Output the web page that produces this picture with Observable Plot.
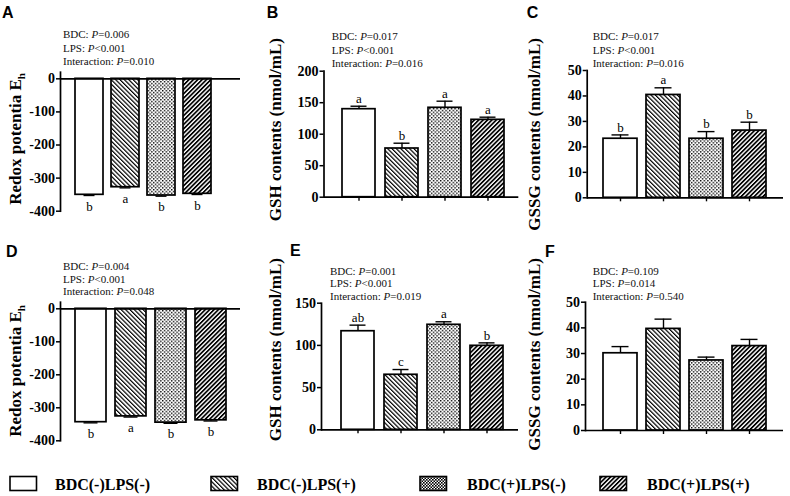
<!DOCTYPE html>
<html><head><meta charset="utf-8">
<script src="https://cdn.jsdelivr.net/npm/d3@7"></script>
<script src="https://cdn.jsdelivr.net/npm/@observablehq/plot@0.6"></script>
<style>
body{margin:0;background:#fff;}
#root{position:relative;width:790px;height:496px;overflow:hidden;background:#fff;}
.panel{position:absolute;}
.panel svg{overflow:visible;}
</style></head><body>
<svg width="0" height="0" style="position:absolute">
<defs>
<pattern id="p2" patternUnits="userSpaceOnUse" width="3.1" height="3.1" patternTransform="rotate(-45)">
<rect width="3.1" height="3.1" fill="#fff"/><rect width="1.2" height="3.1" fill="#000"/></pattern>
<pattern id="p3" patternUnits="userSpaceOnUse" width="3.6" height="3.6">
<rect width="3.6" height="3.6" fill="#fff"/><rect x="0" y="0" width="1.4" height="1.4" fill="#000"/><rect x="1.8" y="1.8" width="1.4" height="1.4" fill="#000"/></pattern>
<pattern id="p4" patternUnits="userSpaceOnUse" width="3.1" height="3.1" patternTransform="rotate(45)">
<rect width="3.1" height="3.1" fill="#fff"/><rect width="1.7" height="3.1" fill="#000"/></pattern>
<pattern id="p3L" patternUnits="userSpaceOnUse" width="3" height="3">
<rect width="3" height="3" fill="#fff"/><rect x="0" y="0" width="1.6" height="1.6" fill="#000"/><rect x="1.5" y="1.5" width="1.6" height="1.6" fill="#000"/></pattern>
</defs></svg>
<div id="root"></div>
<script>
// ---- data ----
const groups = ["BDC(-)LPS(-)", "BDC(-)LPS(+)", "BDC(+)LPS(-)", "BDC(+)LPS(+)"];
const fills = ["#fff", "url(#p2)", "url(#p3)", "url(#p4)"];

const valuesA = [-350.5, -327.5, -352.6, -347.5];
const errorsA = [2, 2, 2, 2];
const lettersA = ["b", "a", "b", "b"];
const pA = ["0.006", "<0.001", "0.010"];
const ticksA = [0, -100, -200, -300, -400];

const valuesB = [139.7, 77.3, 141.9, 122.8];
const errorsB = [4.7, 8.4, 10.5, 4.2];
const lettersB = ["a", "b", "a", "a"];
const pB = ["0.017", "<0.001", "0.016"];
const ticksB = [0, 50, 100, 150, 200];

const valuesC = [23.2, 40.4, 23.2, 26.4];
const errorsC = [1.5, 2.8, 2.8, 3.3];
const lettersC = ["b", "a", "b", "b"];
const pC = ["0.017", "<0.001", "0.016"];
const ticksC = [0, 10, 20, 30, 40, 50];

const valuesD = [-343.6, -326, -345, -338];
const errorsD = [2, 2, 2, 2];
const lettersD = ["b", "a", "b", "b"];
const pD = ["0.004", "<0.001", "0.048"];
const ticksD = [0, -100, -200, -300, -400];

const valuesE = [116.8, 65.2, 124.4, 99.5];
const errorsE = [7.2, 6.2, 3.6, 3.5];
const lettersE = ["ab", "c", "a", "b"];
const pE = ["0.001", "<0.001", "0.019"];
const ticksE = [0, 50, 100, 150];

const valuesF = [30.1, 39.6, 27.3, 32.9];
const errorsF = [2.6, 3.8, 1.3, 2.6];
const lettersF = ["", "", "", ""];
const pF = ["0.109", "0.014", "0.540"];
const ticksF = [0, 10, 20, 30, 40, 50];

const pLabels = ["BDC", "LPS", "Interaction"];
const titleEh = "Redox potentia E";
const titleGSH = "GSH contents (nmol/mL)";
const titleGSSG = "GSSG contents (nmol/mL)";

// ---- layout ----
const SERIF = "'Liberation Serif','Times New Roman',serif";
const SANS = "'Liberation Sans',Arial,sans-serif";
const panels = [
  {id:"A", left:0, top:0, w:260, h:220, ml:60, mr:20, mt:71.7, mb:9.3, dom:[-400,20], xr:[74,212.7], pi:0.22,
   values:valuesA, errors:errorsA, letters:lettersA, p:pA, ticks:ticksA, title:titleEh, sub:"h", lx:2, ly:18.3, px:63, py:[37.8,51.5,65.2], tx:21, ty:73, xaxis:false},
  {id:"B", left:260, top:0, w:260, h:220, ml:63.5, mr:1.7, mt:70.7, mb:23.3, dom:[0,200], xr:[80.7,245.7], pi:0.23,
   values:valuesB, errors:errorsB, letters:lettersB, p:pB, ticks:ticksB, title:titleGSH, lx:6.7, ly:18.3, px:71.7, py:[40,53.5,67], tx:20.5, ty:38, xaxis:true},
  {id:"C", left:520, top:0, w:270, h:220, ml:66.7, mr:7, mt:70, mb:22.7, dom:[0,50], xr:[81.7,246.7], pi:0.22,
   values:valuesC, errors:errorsC, letters:lettersC, p:pC, ticks:ticksC, title:titleGSSG, lx:6.7, ly:18.3, px:72.7, py:[40,53.5,67], tx:19.5, ty:38, xaxis:true},
  {id:"D", left:0, top:220, w:260, h:230, ml:60, mr:20, mt:81.7, mb:9.7, dom:[-400,20], xr:[74,227], pi:0.23,
   values:valuesD, errors:errorsD, letters:lettersD, p:pD, ticks:ticksD, title:titleEh, sub:"h", lx:6, ly:36.7, px:63, py:[50,62.8,75.4], tx:21, ty:85, xaxis:false},
  {id:"E", left:260, top:220, w:260, h:230, ml:61, mr:2, mt:82.7, mb:20.7, dom:[0,150], xr:[80,244], pi:0.234,
   values:valuesE, errors:errorsE, letters:lettersE, p:pE, ticks:ticksE, title:titleGSH, lx:30, ly:36, px:70, py:[55,67,79.5], tx:20.5, ty:38, xaxis:true},
  {id:"F", left:520, top:220, w:270, h:230, ml:65, mr:7, mt:81.7, mb:20, dom:[0,50], xr:[81.7,247.3], pi:0.22,
   values:valuesF, errors:errorsF, letters:lettersF, p:pF, ticks:ticksF, title:titleGSSG, lx:25, ly:36.7, px:72.7, py:[55,67,79.5], tx:19.5, ty:38, xaxis:true}
];

const root = document.getElementById("root");

function makePanel(c) {
  const data = groups.map((g, i) => ({g, v: c.values[i], e: c.errors[i], l: c.letters[i], f: fills[i]}));
  const neg = c.values[0] < 0;
  const end = d => neg ? d.v - d.e : d.v + d.e;
  const marks = [
    Plot.barY(data, {x: "g", y1: 0, y2: "v", fill: "f", stroke: "#000", strokeWidth: 1.7}),
    Plot.ruleX(data, {x: "g", y1: "v", y2: end, stroke: "#000", strokeWidth: 1.4}),
    Plot.tickY(data, {x: "g", y: end, stroke: "#000", strokeWidth: 1.4, insetLeft: 8.5, insetRight: 8.5}),
    Plot.ruleY([0], {stroke: "#000", strokeWidth: 1.7}),
    Plot.frame({anchor: "left", stroke: "#000", strokeWidth: 1.7}),
    Plot.axisY({ticks: c.ticks, tickSize: 4, tickPadding: 1.5, tickFormat: d => String(d), label: null,
      fontSize: 14, fontWeight: "bold", fontFamily: SERIF, stroke: "#000", strokeWidth: 1.5, fill: "#000"}),
    Plot.text(data.filter(d => d.l), {x: "g", y: end, text: "l", dy: neg ? 11 : -7.5, lineAnchor: "middle",
      fontSize: 13, fontFamily: SERIF, fill: "#000"})
  ];
  if (c.xaxis) marks.push(Plot.axisX({tickSize: 4, tickFormat: () => "", label: null, stroke: "#000", strokeWidth: 1.4}));
  const svg = Plot.plot({
    width: c.w, height: c.h,
    marginLeft: c.ml, marginRight: c.mr, marginTop: c.mt, marginBottom: c.mb,
    x: {type: "band", domain: groups, range: c.xr, paddingInner: c.pi, paddingOuter: 0, axis: null},
    y: {domain: c.dom, axis: null},
    color: {type: "identity"},
    style: {fontFamily: SERIF, color: "#000", background: "transparent", overflow: "visible"},
    marks
  });
  const s = d3.select(svg);
  // force serif bold tick labels
  s.selectAll('[aria-label="y-axis tick label"]').each(function() {
    d3.select(this).style("font-family", SERIF).style("font-weight", "bold").style("font-size", "14px");
    d3.select(this).selectAll("text").style("font-family", SERIF).style("font-weight", "bold")
      .style("font-size", "14px").style("fill", "#000");
  });
  s.selectAll('[aria-label="text"] text').style("font-family", SERIF).style("font-size", "13px").style("fill", "#000");
  s.append("text").attr("x", c.lx).attr("y", c.ly).attr("text-anchor", "start")
    .attr("font-family", SANS).attr("font-weight", "bold")
    .attr("font-size", 16).attr("fill", "#000").text(c.id);
  c.p.forEach((pv, i) => {
    const t = s.append("text").attr("x", c.px).attr("y", c.py[i]).attr("text-anchor", "start")
      .attr("font-family", SERIF).attr("font-size", 11).attr("fill", "#111");
    t.append("tspan").text(pLabels[i] + ": ");
    t.append("tspan").attr("font-style", "italic").text("P");
    t.append("tspan").text(pv.startsWith("<") ? pv : "=" + pv);
  });
  const tt = s.append("text").attr("transform", `translate(${c.tx},${c.ty}) rotate(-90)`)
    .attr("text-anchor", "end").attr("font-family", SERIF).attr("font-weight", "bold")
    .attr("font-size", 17).attr("fill", "#000");
  tt.append("tspan").text(c.title);
  if (c.sub) tt.append("tspan").attr("font-size", 11).attr("dy", 4).text(c.sub);
  const div = document.createElement("div");
  div.className = "panel";
  div.style.left = c.left + "px";
  div.style.top = c.top + "px";
  div.style.width = c.w + "px";
  div.appendChild(svg);
  root.appendChild(div);
}
panels.forEach(makePanel);

// ---- legend ----
const legendX = [{bx: 10, tx: 55}, {bx: 211, tx: 257}, {bx: 420, tx: 467}, {bx: 600, tx: 647}];
const legendFills = ["#fff", "url(#p2)", "url(#p3L)", "url(#p4)"];
const lg = d3.select(root).append("div").attr("class", "panel").style("left", "0px").style("top", "455px")
  .append("svg").attr("width", 790).attr("height", 41);
groups.forEach((g, i) => {
  lg.append("rect").attr("x", legendX[i].bx).attr("y", 21.5).attr("width", 26.5).attr("height", 14)
    .attr("fill", legendFills[i]).attr("stroke", "#000").attr("stroke-width", 1.6);
  lg.append("text").attr("x", legendX[i].tx).attr("y", 35).attr("font-family", SERIF).attr("font-weight", "bold")
    .attr("font-size", 16).attr("fill", "#000").text(g);
});
</script>
</body></html>
